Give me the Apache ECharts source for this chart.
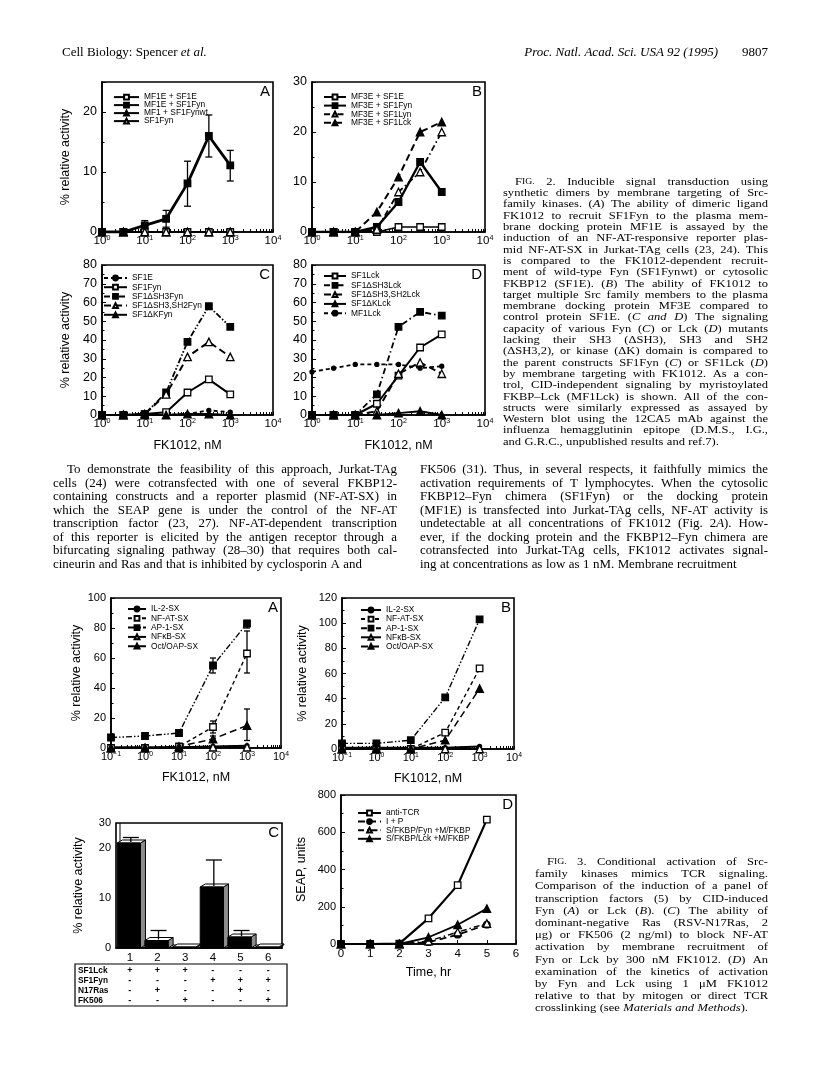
<!DOCTYPE html>
<html>
<head>
<meta charset="utf-8">
<script src="https://cdn.jsdelivr.net/npm/echarts@6/dist/echarts.min.js"></script>
<style>
  html, body { margin: 0; padding: 0; background: #fff; }
  #page { width: 816px; height: 1068px; }
</style>
</head>
<body>
<div id="page"></div>
<script>
// ---------- data ----------
const fkFig2 = [1, 3.16, 10, 31.6, 100, 316, 1000];
const fkFig3 = [0.1, 1, 10, 100, 1000];

// Fig 2A
const a_MF1E_SF1E = [0, 0, 0, 0, 0, 0, 0];
const a_MF1E_SF1Fyn = [0, 0, 1.1, 2.2, 8.1, 16, 11.1];
const a_MF1E_SF1Fyn_lo = [null, null, 0.4, 0.8, 4.3, 12.5, 8.5];
const a_MF1E_SF1Fyn_hi = [null, null, 1.9, 3.6, 11.8, 19.5, 13.6];
const a_MF1_SF1Fynwt = [0, 0, 0, 0, 0, 0, 0];
const a_SF1Fyn = [0, 0, 0, 0, 0, 0, 0];

// Fig 2B
const b_MF3E_SF1E = [0, 0, 0, 0, 1, 1, 1];
const b_MF3E_SF1Fyn = [0, 0, 0, 1, 6, 14, 8];
const b_MF3E_SF1Lyn = [0, 0, 0, 0.5, 8, 12, 20];
const b_MF3E_SF1Lck = [0, 0, 0, 4, 11, 20, 22];

// Fig 2C
const c_SF1E = [0, 0, 0, 0, 0.5, 2.5, 1.5];
const c_SF1Fyn = [0, 0, 0.5, 1.5, 12, 19, 11];
const c_SF1dSH3Fyn = [0, 0, 0.5, 12, 39, 58, 47];
const c_SF1dSH3SH2Fyn = [0, 0, 0.5, 11, 31, 39, 31];
const c_SF1dKFyn = [0, 0, 0, 0, 0.5, 0.5, 0];

// Fig 2D
const d_SF1Lck = [0, 0, 0, 6, 21, 36, 43];
const d_SF1dSH3Lck = [0, 0, 0, 11, 47, 55, 53];
const d_SF1dSH3SH2Lck = [0, 0, 0, 2, 22, 28, 22];
const d_SF1dKLck = [0, 0, 0, 0, 1, 2, 0];
const d_MF1Lck = [23, 25, 27, 27, 27, 25, 26];

// Fig 3A (Fyn)
const a3_IL2 = [0.5, 0.5, 0.5, 1, 1.5];
const a3_NFAT = [0, 0, 1, 14, 63];
const a3_NFAT_lo = [null, null, null, 10, 50];
const a3_NFAT_hi = [null, null, null, 18, 78];
const a3_AP1 = [7, 8, 10, 55, 83];
const a3_AP1_lo = [null, null, null, 50, 80];
const a3_AP1_hi = [null, null, null, 60, 85];
const a3_NFkB = [0, 0, 0, 0.5, 0.5];
const a3_Oct = [0, 0, 1, 6, 15];
const a3_Oct_lo = [null, null, null, 4, 5];
const a3_Oct_hi = [null, null, null, 8, 26];

// Fig 3B (Lck)
const b3_IL2 = [1, 1, 1, 1, 2];
const b3_NFAT = [0, 0, 0, 13, 64];
const b3_AP1 = [4.5, 4.5, 7, 41, 103];
const b3_NFkB = [0, 0, 0, 0, 0];
const b3_Oct = [0, 0, 0, 7, 48];

// Fig 3C
const c3_lanes = ['1', '2', '3', '4', '5', '6'];
const c3_values = [21, 1.5, 0.2, 12.2, 2.2, 0.2];
const c3_err_hi = [22.1, 3.5, null, 17.6, 3.5, null];
const c3_rows = ['SF1Lck', 'SF1Fyn', 'N17Ras', 'FK506'];
const c3_table = [
  ['+', '+', '+', '-', '-', '-'],
  ['-', '-', '-', '+', '+', '+'],
  ['-', '+', '-', '-', '+', '-'],
  ['-', '-', '+', '-', '-', '+']
];

// Fig 3D
const d3_time = [0, 1, 2, 3, 4, 5];
const d3_antiTCR = [0, 0, 2, 138, 316, 668];
const d3_IP = [0, 0, 0, 10, 50, 104];
const d3_Fyn = [0, 0, 0, 15, 64, 110];
const d3_Lck = [0, 0, 0, 36, 103, 190];

// ---------- helpers ----------
const SANS = '"Liberation Sans", Arial, sans-serif';
const SERIF = '"Liberation Serif", "Times New Roman", serif';

const DASH = {
  solid: 'solid',
  dash: [4, 3],
  ldash: [7, 4],
  dashdot: [6, 3, 1.5, 3],
  dashdot2: [6, 2, 1.5, 2, 1.5, 2]
};
const MARK = {
  osq: ['rect', 6.5, '#fff'],
  fsq: ['rect', 6.5, '#000'],
  otri: ['triangle', 7.5, '#fff'],
  ftri: ['triangle', 7.5, '#000'],
  dot: ['circle', 4, '#000'],
  fcirc: ['circle', 6.5, '#000']
};

function lineSeries(name, gi, xs, ys, dash, mark, width) {
  const m = MARK[mark];
  return {
    type: 'line', name: name, xAxisIndex: gi, yAxisIndex: gi,
    data: xs.map((x, i) => [x, ys[i]]),
    symbol: m[0], symbolSize: m[1], showSymbol: true,
    lineStyle: { color: '#000', width: width || 1.8, type: DASH[dash] },
    itemStyle: { color: m[2], borderColor: '#000', borderWidth: 1.3 },
    emphasis: { disabled: true }, silent: true, z: 3
  };
}

function errorSeries(gi, xs, lo, hi, cap) {
  const rows = [];
  xs.forEach((x, i) => { if (hi[i] != null) rows.push([x, lo[i], hi[i]]); });
  return {
    type: 'custom', xAxisIndex: gi, yAxisIndex: gi, data: rows, silent: true, z: 2,
    renderItem: (params, api) => {
      const x = api.value(0);
      const p0 = api.coord([x, api.value(1)]);
      const p1 = api.coord([x, api.value(2)]);
      const st = { stroke: '#000', lineWidth: 1.3 };
      return { type: 'group', children: [
        { type: 'line', shape: { x1: p0[0], y1: p0[1], x2: p1[0], y2: p1[1] }, style: st },
        { type: 'line', shape: { x1: p1[0] - cap, y1: p1[1], x2: p1[0] + cap, y2: p1[1] }, style: st },
        { type: 'line', shape: { x1: p0[0] - cap, y1: p0[1], x2: p0[0] + cap, y2: p0[1] }, style: st }
      ] };
    }
  };
}

function logTicks(min, max) {
  const out = [];
  for (let e = Math.round(Math.log10(min)); e < Math.round(Math.log10(max)); e++) {
    for (let m = 1; m < 10; m++) out.push(m * Math.pow(10, e));
  }
  out.push(max);
  return out;
}

function powLabel(v) {
  const e = Math.round(Math.log10(v));
  return '{b|10}{s|' + (e < 0 ? '\u2212' + (-e) : e) + '}';
}

function logX(gi, min, max, size, extra) {
  return Object.assign({
    type: 'log', logBase: 10, gridIndex: gi, min: min, max: max,
    axisLine: { onZero: false, lineStyle: { color: '#000', width: 1.6 } },
    axisTick: { inside: true, length: 3, lineStyle: { color: '#000', width: 1 }, customValues: logTicks(min, max) },
    axisLabel: {
      color: '#000', margin: 3, formatter: powLabel,
      rich: {
        b: { fontFamily: SANS, fontSize: size, color: '#000' },
        s: { fontFamily: SANS, fontSize: size * 0.62, color: '#000', verticalAlign: 'top', padding: [0, 0, size * 0.45, 0] }
      }
    },
    splitLine: { show: false }
  }, extra || {});
}

function valY(gi, max, interval, size, extra) {
  return Object.assign({
    type: 'value', gridIndex: gi, min: 0, max: max, interval: interval,
    axisLine: { lineStyle: { color: '#000', width: 1.6 } },
    axisTick: { inside: true, length: 4, lineStyle: { color: '#000', width: 1 } },
    minorTick: { show: true, splitNumber: 2, length: 2.5, lineStyle: { color: '#000', width: 1 } },
    axisLabel: { color: '#000', fontFamily: SANS, fontSize: size, margin: 5 },
    splitLine: { show: false }
  }, extra || {});
}

function axisName(name, gap) {
  return {
    name: name, nameLocation: 'middle', nameGap: gap,
    nameTextStyle: { fontFamily: SANS, fontSize: 12.5, color: '#000' }
  };
}

function legendBox(names, left, firstRow, rowH, itemWidth) {
  return {
    orient: 'vertical', left: left, top: firstRow - rowH / 2, padding: 0, itemGap: 0,
    itemWidth: itemWidth, itemHeight: 6, selectedMode: false, data: names,
    formatter: n => n.trim(),
    textStyle: { fontFamily: SANS, fontSize: 8.4, color: '#000', lineHeight: rowH }
  };
}

// grid boxes [left, top, width, height]: 2A 2B 2C 2D 3A 3B 3C 3D
const GRIDS = [
  [102, 82, 171, 150], [312, 82, 173, 150],
  [102, 265, 171, 150], [312, 265, 173, 150],
  [111, 598, 170, 150], [342, 598, 172, 151],
  [116, 823, 166, 125], [341, 795, 175, 149]
];

const option = {
  backgroundColor: '#fff',
  animation: false,
  grid: GRIDS.map(g => ({
    left: g[0], top: g[1], width: g[2], height: g[3],
    show: true, borderColor: '#000', borderWidth: 1.6, backgroundColor: 'transparent'
  })),
  xAxis: [
    logX(0, 1, 10000, 11.5),
    logX(1, 1, 10000, 11.5),
    logX(2, 1, 10000, 11.5, axisName('FK1012, nM', 24)),
    logX(3, 1, 10000, 11.5, axisName('FK1012, nM', 24)),
    logX(4, 0.1, 10000, 11, axisName('FK1012, nM', 23)),
    logX(5, 0.1, 10000, 11, axisName('FK1012, nM', 23)),
    {
      type: 'category', gridIndex: 6, data: c3_lanes,
      axisLine: { lineStyle: { color: '#000', width: 1.6 } }, axisTick: { show: false },
      axisLabel: { color: '#000', fontFamily: SANS, fontSize: 11.5, margin: 4 }
    },
    Object.assign({
      type: 'value', gridIndex: 7, min: 0, max: 6, interval: 1,
      axisLine: { lineStyle: { color: '#000', width: 1.6 } },
      axisTick: { inside: true, length: 4, lineStyle: { color: '#000' } },
      axisLabel: { color: '#000', fontFamily: SANS, fontSize: 11.5, margin: 4 },
      splitLine: { show: false }
    }, axisName('Time, hr', 22))
  ],
  yAxis: [
    valY(0, 25, 10, 12.5, Object.assign({ axisLabel: { color: '#000', fontFamily: SANS, fontSize: 12.5, margin: 5, showMaxLabel: false } }, axisName('% relative activity', 30))),
    valY(1, 30, 10, 12.5),
    valY(2, 80, 10, 12.5, axisName('% relative activity', 30)),
    valY(3, 80, 10, 12.5),
    valY(4, 100, 20, 11, axisName('% relative activity', 28)),
    valY(5, 120, 20, 11, axisName('% relative activity', 33)),
    valY(6, 25, 10, 11, Object.assign({
      axisLabel: { color: '#000', fontFamily: SANS, fontSize: 11, margin: 5, customValues: [0, 10, 20, 25], formatter: v => (v === 25 ? '30' : String(v)) },
      axisTick: { inside: true, length: 3, customValues: [0, 10, 20], lineStyle: { color: '#000' } },
      minorTick: { show: false }
    }, axisName('% relative activity', 31))),
    valY(7, 800, 200, 11, axisName('SEAP, units', 33))
  ],
  legend: [
    legendBox(['MF1E + SF1E', 'MF1E + SF1Fyn', 'MF1 + SF1Fynwt', 'SF1Fyn'], 113, 97, 7.8, 25),
    legendBox(['MF3E + SF1E', 'MF3E + SF1Fyn', 'MF3E + SF1Lyn', 'MF3E + SF1Lck'], 323, 97, 8.6, 22),
    legendBox(['SF1E', 'SF1Fyn ', 'SF1\u0394SH3Fyn', 'SF1\u0394SH3,SH2Fyn', 'SF1\u0394KFyn'], 103, 278, 9.2, 23),
    legendBox(['SF1Lck', 'SF1\u0394SH3Lck', 'SF1\u0394SH3,SH2Lck', 'SF1\u0394KLck', 'MF1Lck'], 323, 276, 9.3, 22),
    legendBox(['IL-2-SX', 'NF-AT-SX', 'AP-1-SX', 'NF\u03baB-SX', 'Oct/OAP-SX'], 127, 609, 9.3, 18),
    legendBox(['IL-2-SX ', 'NF-AT-SX ', 'AP-1-SX ', 'NF\u03baB-SX ', 'Oct/OAP-SX '], 360, 610, 9.1, 20),
    legendBox(['anti-TCR', 'I + P', 'S/FKBP/Fyn +M/FKBP', 'S/FKBP/Lck +M/FKBP'], 357, 813, 8.6, 23)
  ],
  series: [
    // 2A
    errorSeries(0, fkFig2, a_MF1E_SF1Fyn_lo, a_MF1E_SF1Fyn_hi, 3.5),
    lineSeries('MF1E + SF1E', 0, fkFig2, a_MF1E_SF1E, 'solid', 'osq', 1.6),
    lineSeries('MF1 + SF1Fynwt', 0, fkFig2, a_MF1_SF1Fynwt, 'solid', 'ftri', 1.6),
    lineSeries('SF1Fyn', 0, fkFig2, a_SF1Fyn, 'solid', 'otri', 1.6),
    lineSeries('MF1E + SF1Fyn', 0, fkFig2, a_MF1E_SF1Fyn, 'solid', 'fsq', 2.8),
    // 2B
    lineSeries('MF3E + SF1E', 1, fkFig2, b_MF3E_SF1E, 'solid', 'osq', 1.6),
    lineSeries('MF3E + SF1Fyn', 1, fkFig2, b_MF3E_SF1Fyn, 'solid', 'fsq', 2.4),
    lineSeries('MF3E + SF1Lyn', 1, fkFig2, b_MF3E_SF1Lyn, 'dashdot', 'otri', 1.8),
    lineSeries('MF3E + SF1Lck', 1, fkFig2, b_MF3E_SF1Lck, 'ldash', 'ftri', 2),
    // 2C
    lineSeries('SF1E', 2, fkFig2, c_SF1E, 'dash', 'dot', 1.8),
    lineSeries('SF1Fyn ', 2, fkFig2, c_SF1Fyn, 'solid', 'osq', 2),
    lineSeries('SF1\u0394SH3Fyn', 2, fkFig2, c_SF1dSH3Fyn, 'dashdot2', 'fsq', 1.8),
    lineSeries('SF1\u0394SH3,SH2Fyn', 2, fkFig2, c_SF1dSH3SH2Fyn, 'ldash', 'otri', 2),
    lineSeries('SF1\u0394KFyn', 2, fkFig2, c_SF1dKFyn, 'solid', 'ftri', 2),
    // 2D
    lineSeries('SF1Lck', 3, fkFig2, d_SF1Lck, 'solid', 'osq', 2),
    lineSeries('SF1\u0394SH3Lck', 3, fkFig2, d_SF1dSH3Lck, 'dashdot', 'fsq', 1.8),
    lineSeries('SF1\u0394SH3,SH2Lck', 3, fkFig2, d_SF1dSH3SH2Lck, 'ldash', 'otri', 2),
    lineSeries('SF1\u0394KLck', 3, fkFig2, d_SF1dKLck, 'solid', 'ftri', 2),
    lineSeries('MF1Lck', 3, fkFig2, d_MF1Lck, 'dash', 'dot', 1.8),
    // 3A
    errorSeries(4, fkFig3, a3_NFAT_lo, a3_NFAT_hi, 3),
    errorSeries(4, fkFig3, a3_AP1_lo, a3_AP1_hi, 3),
    errorSeries(4, fkFig3, a3_Oct_lo, a3_Oct_hi, 3),
    lineSeries('IL-2-SX', 4, fkFig3, a3_IL2, 'solid', 'dot', 1.8),
    lineSeries('NF-AT-SX', 4, fkFig3, a3_NFAT, 'dash', 'osq', 1.4),
    lineSeries('AP-1-SX', 4, fkFig3, a3_AP1, 'dashdot2', 'fsq', 1.4),
    lineSeries('NF\u03baB-SX', 4, fkFig3, a3_NFkB, 'solid', 'otri', 1.8),
    lineSeries('Oct/OAP-SX', 4, fkFig3, a3_Oct, 'ldash', 'ftri', 1.5),
    // 3B
    lineSeries('IL-2-SX ', 5, fkFig3, b3_IL2, 'solid', 'dot', 1.8),
    lineSeries('NF-AT-SX ', 5, fkFig3, b3_NFAT, 'dash', 'osq', 1.4),
    lineSeries('AP-1-SX ', 5, fkFig3, b3_AP1, 'dashdot2', 'fsq', 1.4),
    lineSeries('NF\u03baB-SX ', 5, fkFig3, b3_NFkB, 'solid', 'otri', 1.8),
    lineSeries('Oct/OAP-SX ', 5, fkFig3, b3_Oct, 'ldash', 'ftri', 1.5),
    // 3C pseudo-3D bars
    {
      type: 'custom', xAxisIndex: 6, yAxisIndex: 6, silent: true, z: 2,
      data: c3_values.map((v, i) => [i, v]),
      renderItem: (params, api) => {
        const i = api.value(0);
        const b = api.coord([i, 0]);
        const t = api.coord([i, api.value(1)]);
        const bw = api.size([1, 0])[0] * 0.84;
        const x0 = b[0] - bw / 2 - 1, x1 = x0 + bw, dx = 5, dy = 3;
        return { type: 'group', children: [
          { type: 'polygon', shape: { points: [[x1, t[1]], [x1 + dx, t[1] - dy], [x1 + dx, b[1] - dy], [x1, b[1]]] },
            style: { fill: '#8c8c8c', stroke: '#000', lineWidth: 1 } },
          { type: 'polygon', shape: { points: [[x0, t[1]], [x0 + dx, t[1] - dy], [x1 + dx, t[1] - dy], [x1, t[1]]] },
            style: { fill: '#fff', stroke: '#000', lineWidth: 1 } },
          { type: 'rect', shape: { x: x0, y: t[1], width: bw, height: b[1] - t[1] },
            style: { fill: '#000', stroke: '#000', lineWidth: 1 } }
        ] };
      }
    },
    {
      type: 'custom', xAxisIndex: 6, yAxisIndex: 6, silent: true, z: 3,
      data: c3_values.map((v, i) => [i, v, c3_err_hi[i]]).filter(r => r[2] != null),
      renderItem: (params, api) => {
        const i = api.value(0);
        const t = api.coord([i, api.value(1)]);
        const h = api.coord([i, api.value(2)]);
        const st = { stroke: '#000', lineWidth: 1.3 };
        return { type: 'group', children: [
          { type: 'line', shape: { x1: t[0] + 1, y1: t[1] - 1, x2: h[0] + 1, y2: h[1] }, style: st },
          { type: 'line', shape: { x1: h[0] - 7, y1: h[1], x2: h[0] + 9, y2: h[1] }, style: st }
        ] };
      }
    },
    // 3D
    lineSeries('anti-TCR', 7, d3_time, d3_antiTCR, 'solid', 'osq', 2.2),
    lineSeries('I + P', 7, d3_time, d3_IP, 'ldash', 'fcirc', 1.8),
    lineSeries('S/FKBP/Fyn +M/FKBP', 7, d3_time, d3_Fyn, 'dashdot', 'otri', 1.5),
    lineSeries('S/FKBP/Lck +M/FKBP', 7, d3_time, d3_Lck, 'solid', 'ftri', 1.8)
  ]
};

const chart = echarts.init(document.getElementById('page'));
chart.setOption(option);

// ---------- page text ----------
// the scan is wider than it is tall, so the type is drawn slightly stretched (sx)
const mctx = document.createElement('canvas').getContext('2d');
function partsOf(word) {
  // "_x_" marks italics, a leading "FIG." is set in small capitals
  if (word.indexOf('FIG.') === 0) return [['r', 'F'], ['sc', 'IG.' + word.slice(4)]];
  return word.split('_').map((p, k) => [k % 2 ? 'i' : 'r', p]).filter(p => p[1]);
}
function fontOf(kind, size) {
  if (kind === 'i') return 'italic ' + size + 'px ' + SERIF;
  if (kind === 'sc') return (size * 0.78) + 'px ' + SERIF;
  return size + 'px ' + SERIF;
}
function wordWidth(word, size) {
  return partsOf(word).reduce((w, p) => { mctx.font = fontOf(p[0], size); return w + mctx.measureText(p[1]).width; }, 0);
}
function textBlock(lines, x, y, width, size, lead, indent, sx) {
  const els = [];
  const rich = {
    r: { fontFamily: SERIF, fontSize: size, fill: '#000' },
    i: { fontFamily: SERIF, fontSize: size, fontStyle: 'italic', fill: '#000' },
    sc: { fontFamily: SERIF, fontSize: size * 0.78, fill: '#000' }
  };
  lines.forEach((line, li) => {
    const words = line.split(' ').filter(Boolean);
    const x0 = x + (li === 0 ? indent : 0);
    const w = width - (li === 0 ? indent : 0);
    const ws = words.map(wd => wordWidth(wd, size) * sx);
    const sum = ws.reduce((a, b) => a + b, 0);
    const last = li === lines.length - 1;
    const gap = (!last && words.length > 1) ? (w - sum) / (words.length - 1) : size * 0.27 * sx;
    let cx = x0;
    words.forEach((wd, k) => {
      els.push({
        type: 'text', x: cx, y: y + li * lead, scaleX: sx, scaleY: 1, silent: true,
        style: {
          text: partsOf(wd).map(p => '{' + p[0] + '|' + p[1] + '}').join(''),
          rich: rich, fontFamily: SERIF, fontSize: size, fill: '#000',
          align: 'left', verticalAlign: 'middle', textAlign: 'left', textVerticalAlign: 'middle'
        }
      });
      cx += ws[k] + gap;
    });
  });
  return els;
}
function label(text, x, y, size, opts) {
  return {
    type: 'text', x: x, y: y, silent: true,
    style: Object.assign({
      text: text, fontFamily: SANS, fontSize: size, fill: '#000',
      align: 'left', verticalAlign: 'middle', textAlign: 'left', textVerticalAlign: 'middle'
    }, opts || {})
  };
}

const bodyLeft = [
  'To demonstrate the feasibility of this approach, Jurkat-TAg',
  'cells (24) were cotransfected with one of several FKBP12-',
  'containing constructs and a reporter plasmid (NF-AT-SX) in',
  'which the SEAP gene is under the control of the NF-AT',
  'transcription factor (23, 27). NF-AT-dependent transcription',
  'of this reporter is elicited by the antigen receptor through a',
  'bifurcating signaling pathway (28\u201330) that requires both cal-',
  'cineurin and Ras and that is inhibited by cyclosporin A and'
];
const bodyRight = [
  'FK506 (31). Thus, in several respects, it faithfully mimics the',
  'activation requirements of T lymphocytes. When the cytosolic',
  'FKBP12\u2013Fyn chimera (SF1Fyn) or the docking protein',
  '(MF1E) is transfected into Jurkat-TAg cells, NF-AT activity is',
  'undetectable at all concentrations of FK1012 (Fig. 2_A_). How-',
  'ever, if the docking protein and the FKBP12\u2013Fyn chimera are',
  'cotransfected into Jurkat-TAg cells, FK1012 activates signal-',
  'ing at concentrations as low as 1 nM. Membrane recruitment'
];
const caption2 = [
  'FIG. 2.  Inducible signal transduction using',
  'synthetic dimers by membrane targeting of Src-',
  'family kinases. (_A_) The ability of dimeric ligand',
  'FK1012 to recruit SF1Fyn to the plasma mem-',
  'brane docking protein MF1E is assayed by the',
  'induction of an NF-AT-responsive reporter plas-',
  'mid NF-AT-SX in Jurkat-TAg cells (23, 24). This',
  'is compared to the FK1012-dependent recruit-',
  'ment of wild-type Fyn (SF1Fynwt) or cytosolic',
  'FKBP12 (SF1E). (_B_) The ability of FK1012 to',
  'target multiple Src family members to the plasma',
  'membrane docking protein MF3E compared to',
  'control protein SF1E. (_C_ _and_ _D_) The signaling',
  'capacity of various Fyn (_C_) or Lck (_D_) mutants',
  'lacking their SH3 (\u0394SH3), SH3 and SH2',
  '(\u0394SH3,2), or kinase (\u0394K) domain is compared to',
  'the parent constructs SF1Fyn (_C_) or SF1Lck (_D_)',
  'by membrane targeting with FK1012. As a con-',
  'trol, CID-independent signaling by myristoylated',
  'FKBP\u2013Lck (MF1Lck) is shown. All of the con-',
  'structs were similarly expressed as assayed by',
  'Western blot using the 12CA5 mAb against the',
  'influenza hemagglutinin epitope (D.M.S., I.G.,',
  'and G.R.C., unpublished results and ref.7).'
];
const caption3 = [
  'FIG. 3.  Conditional activation of Src-',
  'family kinases mimics TCR signaling.',
  'Comparison of the induction of a panel of',
  'transcription factors (5) by CID-induced',
  'Fyn (_A_) or Lck (_B_). (_C_) The ability of',
  'dominant-negative Ras (RSV-N17Ras, 2',
  '\u03bcg) or FK506 (2 ng/ml) to block NF-AT',
  'activation by membrane recruitment of',
  'Fyn or Lck by 300 nM FK1012. (_D_) An',
  'examination of the kinetics of activation',
  'by Fyn and Lck using 1 \u03bcM FK1012',
  'relative to that by mitogen or direct TCR',
  'crosslinking (see _Materials_ _and_ _Methods_).'
];

const graphics = [];
graphics.push({
  type: 'text', x: 62, y: 53, silent: true,
  style: {
    text: '{r|Cell Biology: Spencer }{i|et al.}',
    rich: { r: { fontFamily: SERIF, fontSize: 13, fill: '#000' }, i: { fontFamily: SERIF, fontSize: 13, fontStyle: 'italic', fill: '#000' } },
    verticalAlign: 'middle', textVerticalAlign: 'middle'
  }
});
graphics.push({
  type: 'text', x: 718, y: 53, silent: true,
  style: { text: 'Proc. Natl. Acad. Sci. USA 92 (1995)', fontFamily: SERIF, fontSize: 13, fontStyle: 'italic', fill: '#000',
    align: 'right', verticalAlign: 'middle', textAlign: 'right', textVerticalAlign: 'middle' }
});
graphics.push({
  type: 'text', x: 768, y: 53, silent: true,
  style: { text: '9807', fontFamily: SERIF, fontSize: 13, fill: '#000',
    align: 'right', verticalAlign: 'middle', textAlign: 'right', textVerticalAlign: 'middle' }
});
textBlock(bodyLeft, 53, 470, 344, 12.2, 13.5, 14, 1.06).forEach(e => graphics.push(e));
textBlock(bodyRight, 420, 470, 348, 12.2, 13.5, 0, 1.06).forEach(e => graphics.push(e));
textBlock(caption2, 503, 182, 265, 10.8, 11.3, 12, 1.16).forEach(e => graphics.push(e));
textBlock(caption3, 535, 862, 233, 11.2, 12.2, 12, 1.12).forEach(e => graphics.push(e));

// panel letters
[['A', 0], ['B', 1], ['C', 2], ['D', 3], ['A', 4], ['B', 5], ['C', 6], ['D', 7]].forEach(p => {
  const g = GRIDS[p[1]];
  graphics.push(label(p[0], g[0] + g[2] - 3, g[1] + 10, 15, { align: 'right', textAlign: 'right' }));
});

// 3C: back wall and floor edge of the pseudo-3D box, taken from the axes
const wallTop = chart.convertToPixel({ yAxisIndex: 6 }, 25);
const wallBase = chart.convertToPixel({ yAxisIndex: 6 }, 0);
const wallLeft = GRIDS[6][0] + 4;
const wallRight = GRIDS[6][0] + GRIDS[6][2];
graphics.push({ type: 'polyline', silent: true, z: -1,
  shape: { points: [[wallLeft, wallTop], [wallLeft, wallBase - 3], [wallRight, wallBase - 3]] },
  style: { fill: 'none', stroke: '#000', lineWidth: 1 } });

// 3C condition table, columns follow the lane axis
graphics.push({ type: 'rect', silent: true, shape: { x: 75, y: 964, width: 212, height: 42 }, style: { fill: 'none', stroke: '#000', lineWidth: 1.2 } });
c3_rows.forEach((row, r) => {
  const y = 971 + r * 10;
  graphics.push(label(row, 78, y, 8.3, { fontWeight: 'bold' }));
  c3_table[r].forEach((mark, c) => {
    const x = chart.convertToPixel({ xAxisIndex: 6 }, c);
    graphics.push(label(mark, x, y, 9, { fontWeight: 'bold', align: 'center', textAlign: 'center' }));
  });
});

chart.setOption({ graphic: { elements: graphics } });
</script>
</body>
</html>
